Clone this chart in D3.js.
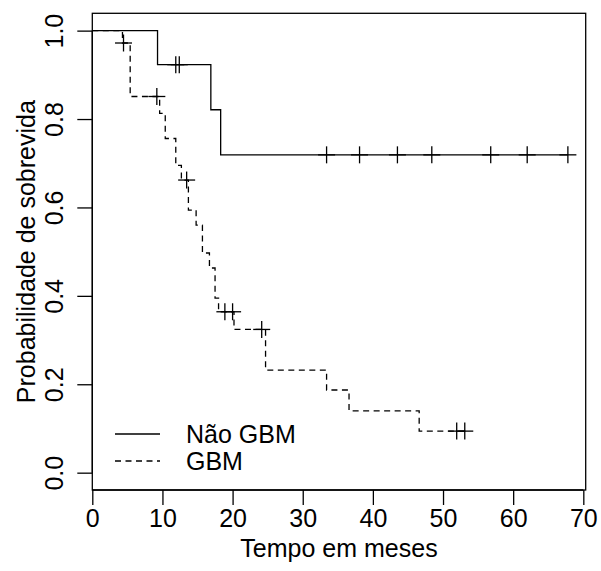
<!DOCTYPE html>
<html>
<head>
<meta charset="utf-8">
<script src="https://cdn.jsdelivr.net/npm/d3@7/dist/d3.min.js"></script>
<style>
	body { margin: 0; background: #fff; }
	svg text { font-family: "Liberation Sans", Arial, sans-serif; fill: #000; }
</style>
</head>
<body>
<svg id="chart" width="601" height="571"></svg>
<script>
// Não GBM: tempos de queda e sobrevida apos cada queda
var naoGbmTime   = [0, 9.3, 16.9, 18.3];
var naoGbmSurv   = [1, 0.923, 0.821, 0.719];
var naoGbmEnd    = 67.8;
var naoGbmCensor = [11.9, 12.4, 33.4, 38.1, 43.5, 48.4, 56.8, 62.0, 67.8];

// GBM
var gbmTime   = [0, 4.3, 5.4, 9.6, 10.4, 11.9, 12.7, 13.7, 14.8, 15.7, 16.7, 17.5, 18.0, 20.2, 24.7, 33.4, 36.6, 46.6];
var gbmSurv   = [1, 0.972, 0.851, 0.813, 0.756, 0.695, 0.662, 0.594, 0.560, 0.497, 0.463, 0.395, 0.364, 0.324, 0.232, 0.187, 0.140, 0.094];
var gbmEnd    = 53.1;
var gbmCensor = [4.45, 9.2, 13.45, 18.9, 20.0, 24.15, 51.95, 53.1];

var xTicks = [0, 10, 20, 30, 40, 50, 60, 70];
var yTicks = [0, 0.2, 0.4, 0.6, 0.8, 1.0];
var legendLabels = ["Não GBM", "GBM"];

function drawChart() {
	var svg = d3.select("#chart");
	var pLeft = 92.3, pRight = 585.7, pTop = 13.3, pBottom = 490;

	var x = d3.scaleLinear().domain([0, 70.34]).range([pLeft, pRight]);
	var y = d3.scaleLinear().domain([-0.0392, 1.0392]).range([pBottom, pTop]);

	function survAt(times, surv, t) {
		var s = surv[0];
		for (var i = 0; i < times.length; i++) {
			if (times[i] <= t) s = surv[i];
		}
		return s;
	}

	function stepPoints(times, surv, end) {
		var pts = times.map(function(t, i) { return [t, surv[i]]; });
		pts.push([end, surv[surv.length - 1]]);
		return pts;
	}

	var line = d3.line()
		.x(function(d) { return x(d[0]); })
		.y(function(d) { return y(d[1]); })
		.curve(d3.curveStepAfter);

	function drawCurve(times, surv, end, censor, dash) {
		svg.append("path")
			.attr("d", line(stepPoints(times, surv, end)))
			.attr("fill", "none")
			.attr("stroke", "#000")
			.attr("stroke-width", 1.3)
			.attr("stroke-dasharray", dash);
		var g = svg.append("g");
		censor.forEach(function(t) {
			var cx = x(t), cy = y(survAt(times, surv, t));
			g.append("line").attr("x1", cx - 8.5).attr("x2", cx + 8.5).attr("y1", cy).attr("y2", cy);
			g.append("line").attr("x1", cx).attr("x2", cx).attr("y1", cy - 8.5).attr("y2", cy + 8.5);
		});
		g.selectAll("line").attr("stroke", "#000").attr("stroke-width", 1.3);
	}

	drawCurve(gbmTime, gbmSurv, gbmEnd, gbmCensor, "6,4.5");
	drawCurve(naoGbmTime, naoGbmSurv, naoGbmEnd, naoGbmCensor, null);

	// caixa
	svg.append("rect")
		.attr("x", pLeft).attr("y", pTop)
		.attr("width", pRight - pLeft).attr("height", pBottom - pTop)
		.attr("fill", "none").attr("stroke", "#000").attr("stroke-width", 1.3);

	// eixo x
	var xAxis = svg.append("g")
		.attr("transform", "translate(0," + pBottom + ")")
		.call(d3.axisBottom(x).tickValues(xTicks).tickSize(15).tickPadding(4).tickFormat(d3.format("d")));
	xAxis.select(".domain").attr("d", "M" + x(0) + ",0H" + x(70));
	xAxis.selectAll("text").attr("font-size", 25);

	// eixo y
	var yAxis = svg.append("g")
		.attr("transform", "translate(" + pLeft + ",0)")
		.call(d3.axisLeft(y).tickValues(yTicks).tickSize(15).tickFormat(d3.format(".1f")));
	yAxis.select(".domain").attr("d", "M0," + y(0) + "V" + y(1));
	yAxis.selectAll("text")
		.attr("x", null).attr("dy", null)
		.attr("font-size", 25)
		.attr("text-anchor", "middle")
		.attr("transform", "translate(-29.5,0) rotate(-90)");

	svg.selectAll(".domain").attr("fill", "none").attr("stroke", "#000").attr("stroke-width", 1.3);
	svg.selectAll(".tick line").attr("stroke", "#000").attr("stroke-width", 1.3);
	svg.selectAll(".tick text").style("font-family", "Liberation Sans, Arial, sans-serif").attr("fill", "#000");

	// titulos
	svg.append("text")
		.attr("x", (pLeft + pRight) / 2).attr("y", 557)
		.attr("text-anchor", "middle").attr("font-size", 25)
		.text("Tempo em meses");
	svg.append("text")
		.attr("transform", "translate(35," + ((pTop + pBottom) / 2) + ") rotate(-90)")
		.attr("text-anchor", "middle").attr("font-size", 25)
		.text("Probabilidade de sobrevida");

	// legenda
	var legend = svg.append("g");
	legendLabels.forEach(function(lab, i) {
		var ly = 434 + i * 27;
		legend.append("line")
			.attr("x1", 115).attr("x2", 160).attr("y1", ly).attr("y2", ly)
			.attr("stroke", "#000").attr("stroke-width", 1.3)
			.attr("stroke-dasharray", i === 1 ? "6,4.5" : null);
		legend.append("text")
			.attr("x", 186).attr("y", ly + 9)
			.attr("font-size", 25)
			.text(lab);
	});
}

drawChart();
</script>
</body>
</html>
